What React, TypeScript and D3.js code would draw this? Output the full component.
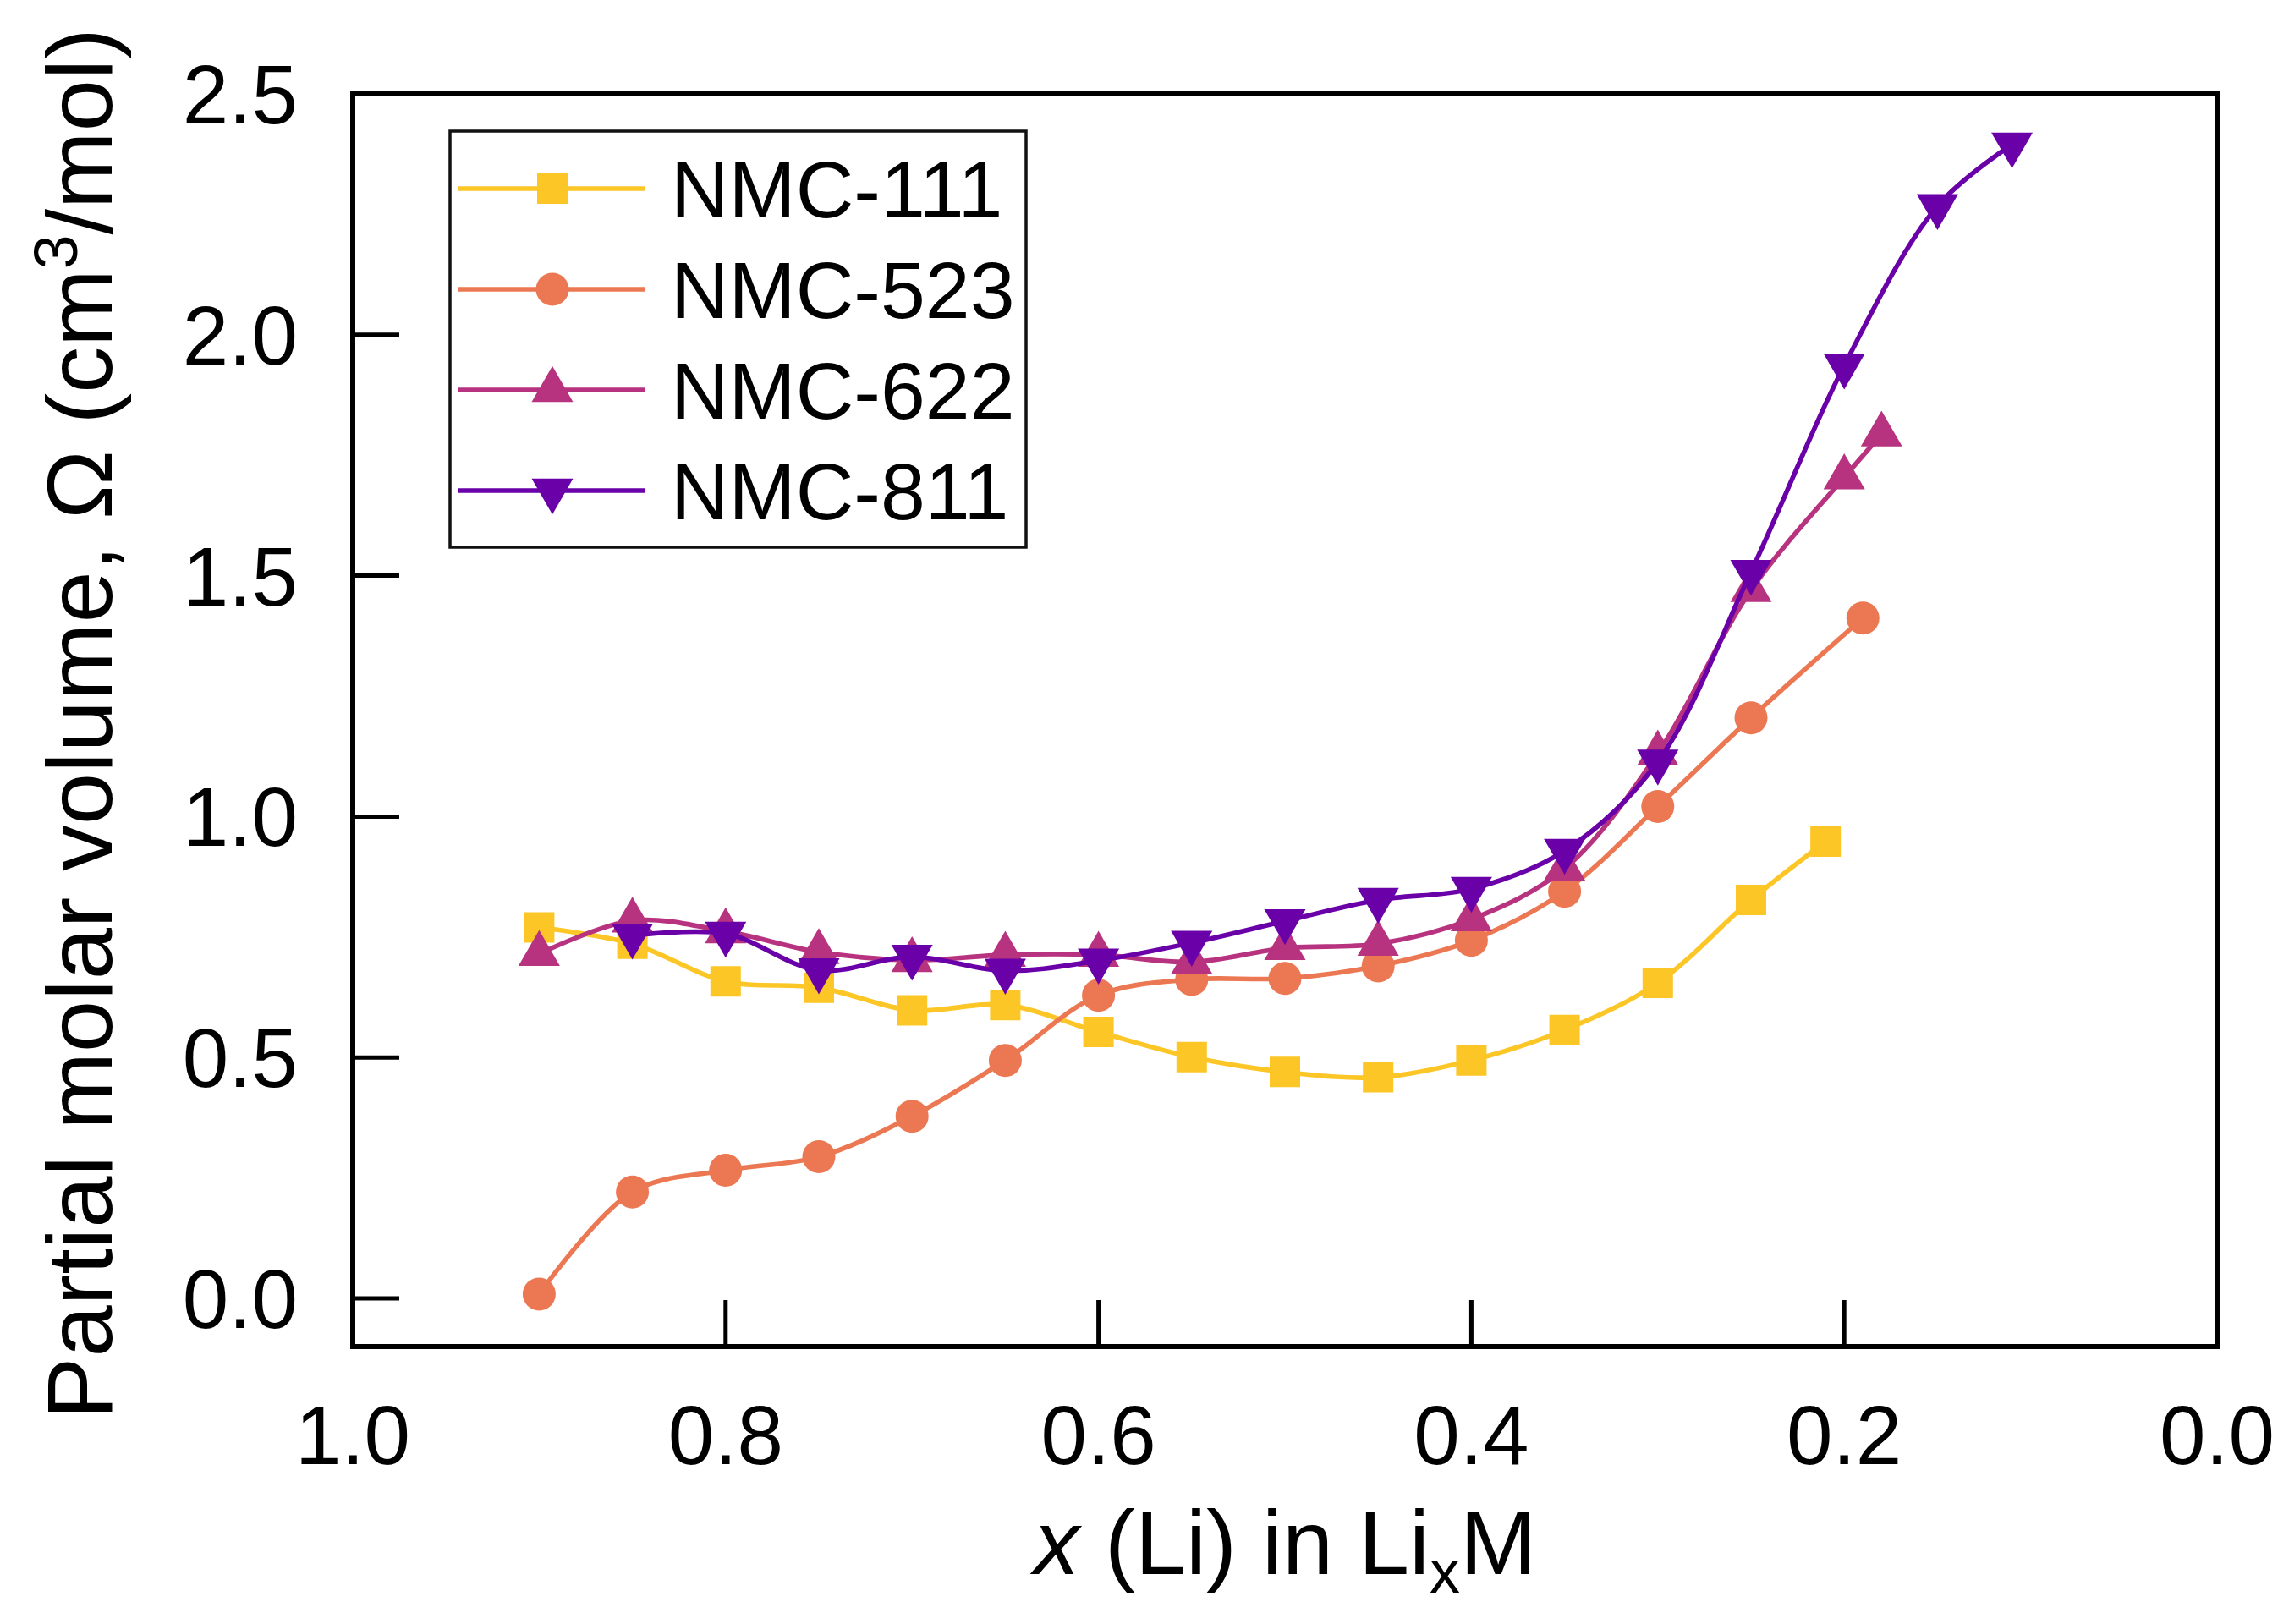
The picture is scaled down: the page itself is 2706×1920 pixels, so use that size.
import React from "react";
import * as d3 from "d3";

const W = 2706;
const H = 1920;

const xTicks = [1.0, 0.8, 0.6, 0.4, 0.2, 0.0];
const yTicks = [0.0, 0.5, 1.0, 1.5, 2.0, 2.5];

const seriesNames = ["NMC-111", "NMC-523", "NMC-622", "NMC-811"];
const seriesColors = ["#FBC626", "#EC7853", "#B8337F", "#6A00A8"];
const seriesSymbols = ["square", "circle", "triangleUp", "triangleDown"];

const xs111 = [0.9, 0.85, 0.8, 0.75, 0.7, 0.65, 0.6, 0.55, 0.5, 0.45, 0.4, 0.35, 0.3, 0.25, 0.21];
const nmc111 = [0.770, 0.736, 0.658, 0.645, 0.598, 0.609, 0.553, 0.501, 0.470, 0.459, 0.494, 0.557, 0.655, 0.827, 0.948];

const xs523 = [0.9, 0.85, 0.8, 0.75, 0.7, 0.65, 0.6, 0.55, 0.5, 0.45, 0.4, 0.35, 0.3, 0.25, 0.19];
const nmc523 = [0.009, 0.221, 0.266, 0.294, 0.378, 0.494, 0.629, 0.662, 0.664, 0.690, 0.743, 0.845, 1.021, 1.205, 1.412];

const xs622 = [0.9, 0.85, 0.8, 0.75, 0.7, 0.65, 0.6, 0.55, 0.5, 0.45, 0.4, 0.35, 0.3, 0.25, 0.2, 0.18];
const nmc622 = [0.715, 0.784, 0.762, 0.719, 0.702, 0.713, 0.713, 0.698, 0.727, 0.736, 0.787, 0.892, 1.131, 1.47, 1.704, 1.793];

const xs811 = [0.85, 0.8, 0.75, 0.7, 0.65, 0.6, 0.55, 0.5, 0.45, 0.4, 0.35, 0.3, 0.25, 0.2, 0.15, 0.11];
const nmc811 = [0.753, 0.757, 0.681, 0.709, 0.680, 0.701, 0.738, 0.783, 0.827, 0.850, 0.929, 1.114, 1.508, 1.936, 2.267, 2.395];

const seriesX = [xs111, xs523, xs622, xs811];
const seriesY = [nmc111, nmc523, nmc622, nmc811];

const FONT = "'Liberation Sans', Arial, Helvetica, sans-serif";

const margin = { left: 417, right: 2621, top: 111, bottom: 1592 };

function symbolPath(kind: string): string {
  const sym =
    kind === "square"
      ? d3.symbol(d3.symbolSquare, 36 * 36)
      : kind === "circle"
      ? d3.symbol(d3.symbolCircle, Math.PI * 19.5 * 19.5)
      : d3.symbol(d3.symbolTriangle, (Math.sqrt(3) / 4) * 49 * 49);
  return sym() as string;
}

function Marker({ kind, x, y, color }: { kind: string; x: number; y: number; color: string }) {
  const rot = kind === "triangleDown" ? " rotate(180)" : "";
  return <path d={symbolPath(kind)} transform={`translate(${x},${y})${rot}`} fill={color} />;
}

export default function App() {
  const x = d3.scaleLinear().domain([1.0, 0.0]).range([margin.left, margin.right]);
  const y = d3.scaleLinear().domain([-0.1, 2.5]).range([margin.bottom, margin.top]);

  const line = d3
    .line<[number, number]>()
    .x((d) => x(d[0]))
    .y((d) => y(d[1]))
    .curve(d3.curveCatmullRom.alpha(0.5));

  const tickLen = 55;
  const legend = { x0: 532, y0: 155, x1: 1213, y1: 647 };
  const legendRows = [223, 342, 461, 580];
  const lw = 5.6;

  return (
    <div style={{ position: "absolute", left: 0, top: 0 }}>
      <svg width={W} height={H} style={{ display: "block", background: "#fff" }}>
        <rect x={0} y={0} width={W} height={H} fill="#fff" />

        {/* series */}
        {seriesNames.map((name, i) => {
          const pts: [number, number][] = seriesX[i].map((xv, j) => [xv, seriesY[i][j]] as [number, number]);
          return (
            <g key={name}>
              <path d={line(pts) as string} fill="none" stroke={seriesColors[i]} strokeWidth={lw} />
              {pts.map((p, j) => (
                <Marker key={j} kind={seriesSymbols[i]} x={x(p[0])} y={y(p[1])} color={seriesColors[i]} />
              ))}
            </g>
          );
        })}

        {/* ticks */}
        {xTicks.map((t) => (
          <line key={"xt" + t} x1={x(t)} x2={x(t)} y1={margin.bottom} y2={margin.bottom - tickLen} stroke="#000" strokeWidth={5} />
        ))}
        {yTicks.map((t) => (
          <line key={"yt" + t} x1={margin.left} x2={margin.left + tickLen} y1={y(t)} y2={y(t)} stroke="#000" strokeWidth={5} />
        ))}

        {/* frame */}
        <rect
          x={margin.left}
          y={margin.top}
          width={margin.right - margin.left}
          height={margin.bottom - margin.top}
          fill="none"
          stroke="#000"
          strokeWidth={6}
        />

        {/* tick labels */}
        {xTicks.map((t) => (
          <text key={"xl" + t} x={x(t)} y={1731} textAnchor="middle" fontFamily={FONT} fontSize={98} fill="#000">
            {t.toFixed(1)}
          </text>
        ))}
        {yTicks.map((t) => (
          <text
            key={"yl" + t}
            x={352}
            y={y(t) + 35}
            textAnchor="end"
            fontFamily={FONT}
            fontSize={98}
            fill="#000"
          >
            {t.toFixed(1)}
          </text>
        ))}

        {/* axis titles */}
        <text x={(margin.left + margin.right) / 2} y={1861} textAnchor="middle" fontFamily={FONT} fontSize={108} fill="#000">
          <tspan fontStyle="italic">x</tspan>
          <tspan> (Li) in Li</tspan>
          <tspan fontSize={72} dy={22}>x</tspan>
          <tspan dy={-22}>M</tspan>
        </text>
        <text
          transform={`translate(132,${(margin.top + margin.bottom) / 2 + 4}) rotate(-90)`}
          textAnchor="middle"
          fontFamily={FONT}
          fontSize={110}
          fill="#000"
        >
          <tspan>Partial molar volume, Ω (cm</tspan>
          <tspan fontSize={73} dy={-41}>3</tspan>
          <tspan dy={41}>/mol)</tspan>
        </text>

        {/* legend */}
        <rect
          x={legend.x0}
          y={legend.y0}
          width={legend.x1 - legend.x0}
          height={legend.y1 - legend.y0}
          fill="#fff"
          stroke="#111"
          strokeWidth={3.5}
        />
        {seriesNames.map((name, i) => (
          <g key={"lg" + name}>
            <line x1={542} x2={763} y1={legendRows[i]} y2={legendRows[i]} stroke={seriesColors[i]} strokeWidth={lw} />
            <Marker kind={seriesSymbols[i]} x={653} y={legendRows[i]} color={seriesColors[i]} />
            <text x={793} y={legendRows[i] + 34} fontFamily={FONT} fontSize={95} fill="#000">
              {name}
            </text>
          </g>
        ))}
      </svg>
    </div>
  );
}
